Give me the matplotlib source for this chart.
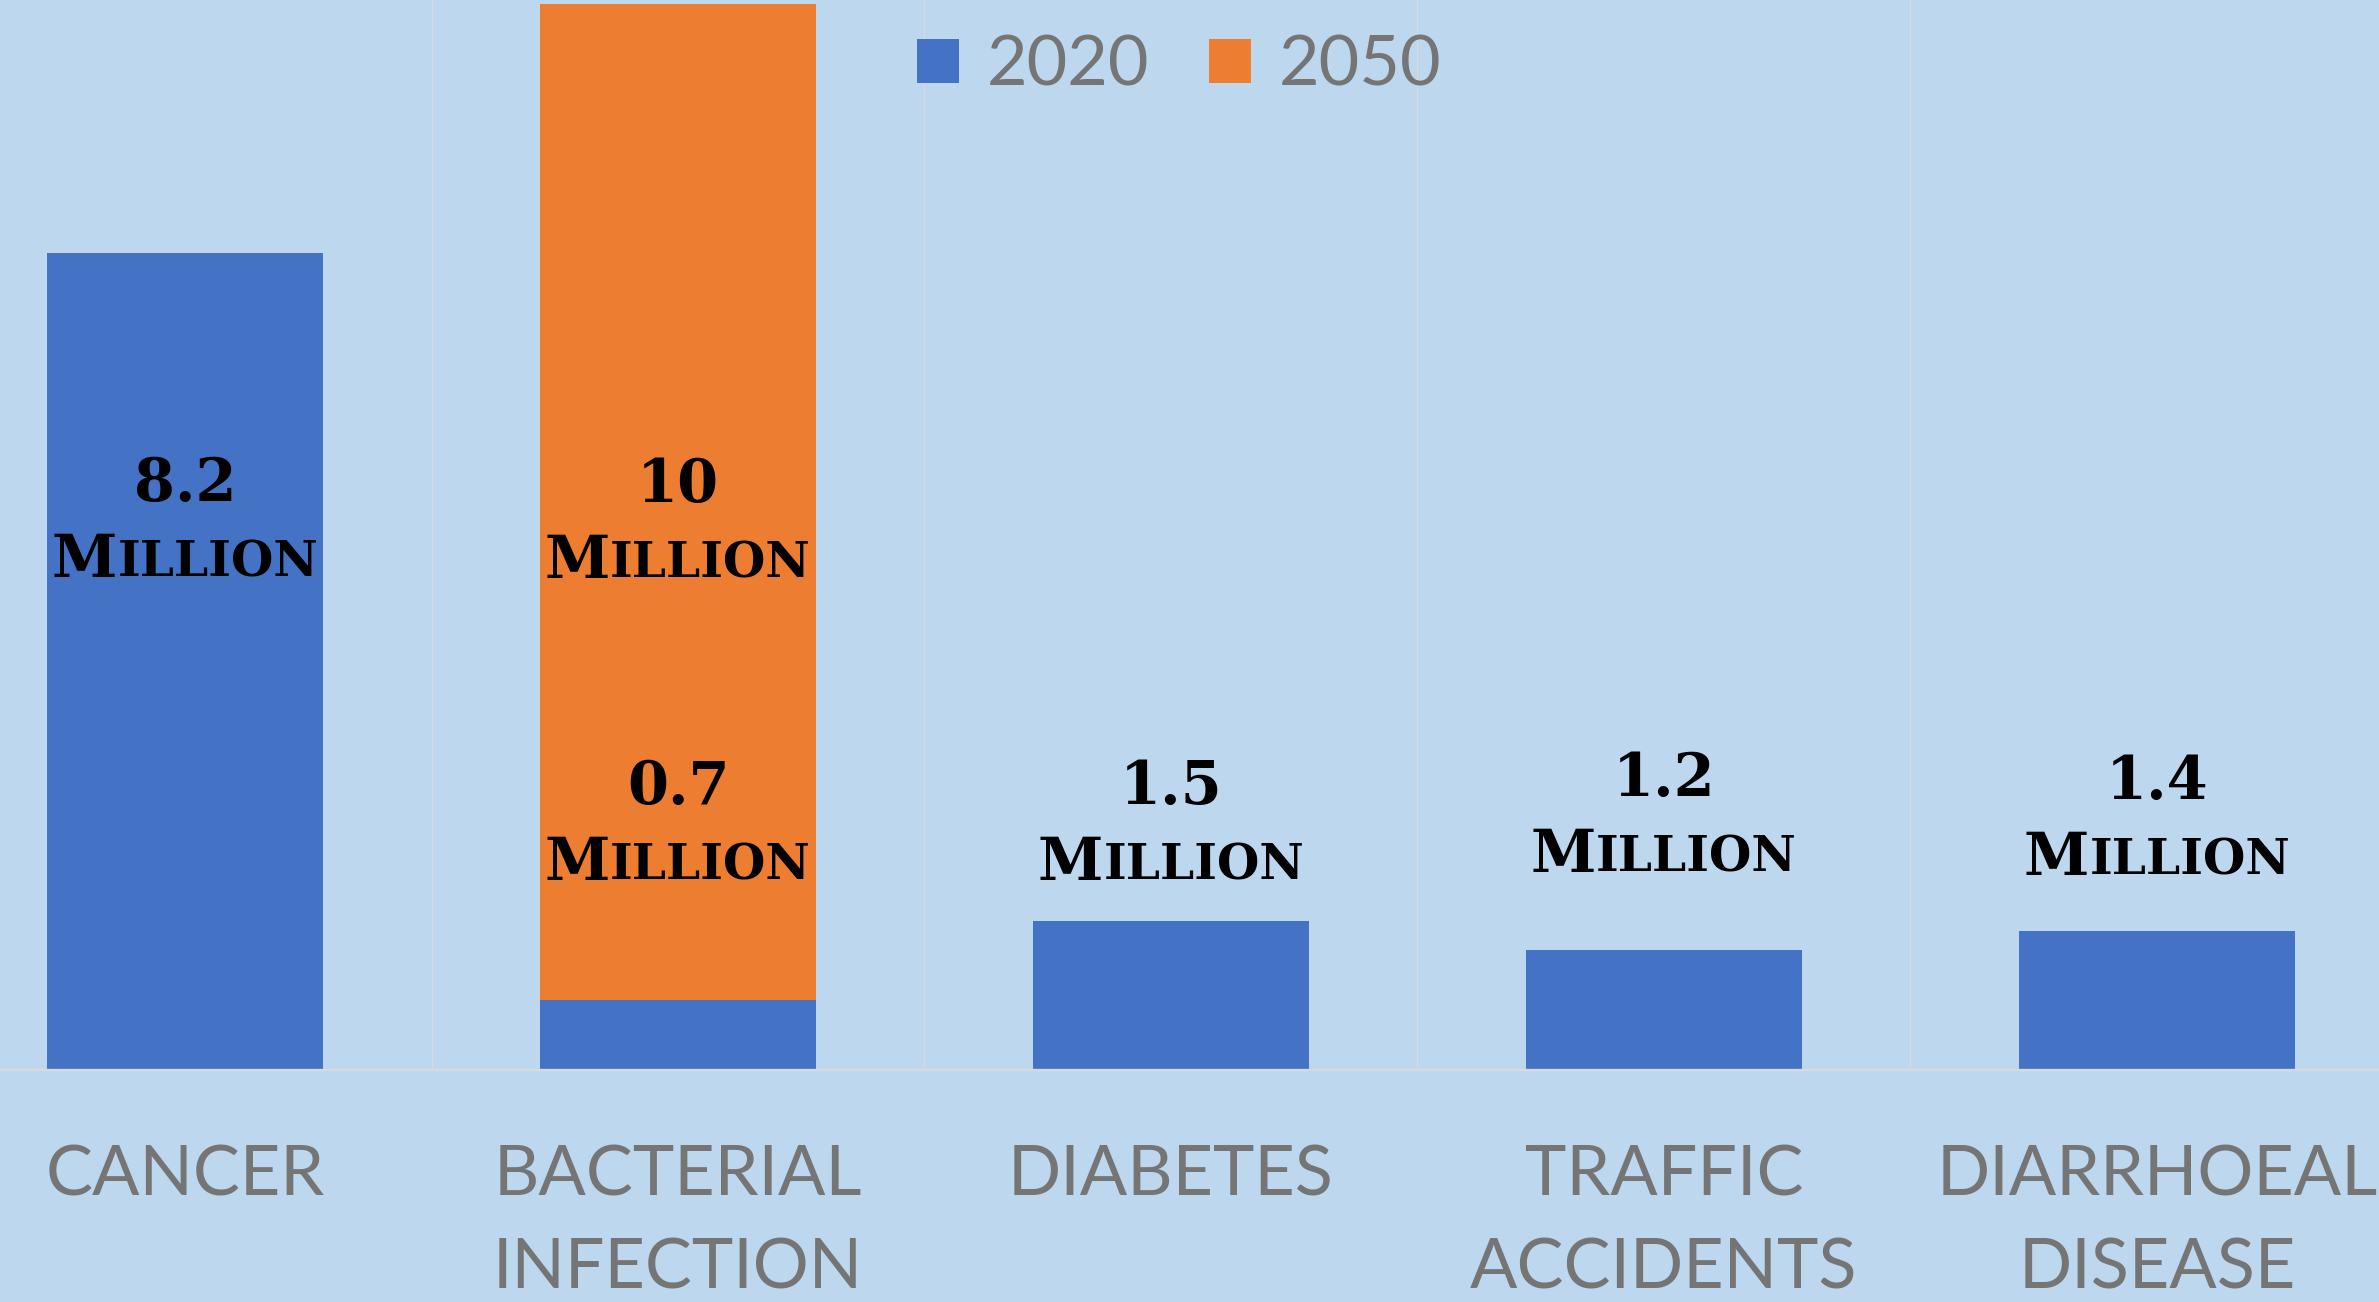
"""
plot.py

Projected deaths per year by cause, 2020 vs 2050 (bacterial infection).
Recreates an Excel-style column chart and saves it as out.png.
"""

import matplotlib

matplotlib.use("Agg")
import matplotlib.pyplot as plt
from matplotlib import font_manager
from matplotlib.transforms import offset_copy

CATEGORIES = ["CANCER", "BACTERIAL\nINFECTION", "DIABETES", "TRAFFIC\nACCIDENTS", "DIARRHOEAL\nDISEASE"]
SERIES = ["2020", "2050"]
DEATHS_2020 = [8.2, 0.7, 1.5, 1.2, 1.4]
DEATHS_2050 = [0.0, 10.0, 0.0, 0.0, 0.0]
LABELS_2020 = ["8.2", "0.7", "1.5", "1.2", "1.4"]
LABELS_2050 = ["", "10", "", "", ""]

# where each "Million" label sits (baseline, data units)
LABEL_Y_2020 = [4.95, 1.91, 1.91, 1.99, 1.96]
LABEL_Y_2050 = [None, 4.94, None, None, None]

BG = "#BDD7EE"
BLUE = "#4472C4"
ORANGE = "#ED7D31"
GRAY = "#757575"
GRID = "#D9D9D9"

W_PX, H_PX, DPI = 2379, 1302, 100
BASE_PX = 1070  # baseline row in pixels from top
CAT_PX = 493  # width of one category in pixels
FIRST_CENTER_PX = 185
PX_PER_UNIT = 99.6


def pick_font(candidates):
    names = {f.name for f in font_manager.fontManager.ttflist}
    for c in candidates:
        if c in names:
            return c
    return "DejaVu Sans"


CAT_FONT = pick_font(["Liberation Sans Narrow", "Lato", "Liberation Sans"])
LABEL_FONT = pick_font(["DejaVu Serif", "Liberation Serif"])
CAT_SIZE = 50.5
NUM_SIZE = 42.5
SMALL_SIZE = 35


def draw_million(fig, ax, x, y, number):
    r = fig.canvas.get_renderer()
    base = ax.transData
    kw = dict(fontfamily=LABEL_FONT, fontweight="bold", color="black", va="baseline", zorder=5)
    ax.text(x, y, number, ha="center", fontsize=NUM_SIZE,
            transform=offset_copy(base, fig, x=0, y=76, units="dots"), **kw)
    big = ax.text(x, y, "M", ha="left", fontsize=NUM_SIZE, **kw)
    small = ax.text(x, y, "ILLION", ha="left", fontsize=SMALL_SIZE, **kw)
    wb = big.get_window_extent(r).width
    ws = small.get_window_extent(r).width
    total = wb + ws
    big.set_transform(offset_copy(base, fig, x=-total / 2, y=0, units="dots"))
    small.set_transform(offset_copy(base, fig, x=-total / 2 + wb, y=0, units="dots"))


def main():
    fig = plt.figure(figsize=(W_PX / DPI, H_PX / DPI), dpi=DPI, facecolor=BG)
    y0 = 1 - BASE_PX / H_PX
    ax = fig.add_axes([0, y0, 1, 1 - y0], facecolor=BG)

    x = list(range(len(CATEGORIES)))
    b1 = ax.bar(x, DEATHS_2020, width=0.56, color=BLUE, zorder=2)
    b2 = ax.bar(x, DEATHS_2050, width=0.56, bottom=DEATHS_2020, color=ORANGE, zorder=2)

    ax.set_xlim(-FIRST_CENTER_PX / CAT_PX, (W_PX - FIRST_CENTER_PX) / CAT_PX)
    ax.set_ylim(0, BASE_PX / PX_PER_UNIT)

    for s in ["left", "right", "top"]:
        ax.spines[s].set_visible(False)
    ax.spines["bottom"].set_color(GRID)
    ax.spines["bottom"].set_linewidth(1.7)

    ax.set_yticks([])
    ax.set_xticks(x)
    ax.set_xticklabels(CATEGORIES, fontsize=CAT_SIZE, color=GRAY, fontfamily=CAT_FONT, linespacing=1.58)
    ax.tick_params(axis="x", length=0, pad=54)
    ax.set_xticks([i + 0.5 for i in range(len(CATEGORIES) - 1)], minor=True)
    ax.tick_params(axis="x", which="minor", length=0)
    ax.grid(which="minor", axis="x", color=GRID, linewidth=0.8)
    ax.set_axisbelow(True)

    for i in x:
        draw_million(fig, ax, i, LABEL_Y_2020[i], LABELS_2020[i])
        if LABEL_Y_2050[i] is not None:
            draw_million(fig, ax, i, LABEL_Y_2050[i], LABELS_2050[i])

    ax.legend([b1, b2], SERIES, loc="center", bbox_to_anchor=(0.4956, 0.949),
              bbox_transform=fig.transFigure, ncol=2, frameon=False,
              prop=dict(family=CAT_FONT, size=CAT_SIZE), labelcolor=GRAY,
              handlelength=0.6, handleheight=0.6, handletextpad=0.4,
              columnspacing=0.85, borderpad=0, borderaxespad=0)

    fig.savefig("out.png", dpi=DPI, facecolor=BG)
    plt.close(fig)


if __name__ == "__main__":
    main()
